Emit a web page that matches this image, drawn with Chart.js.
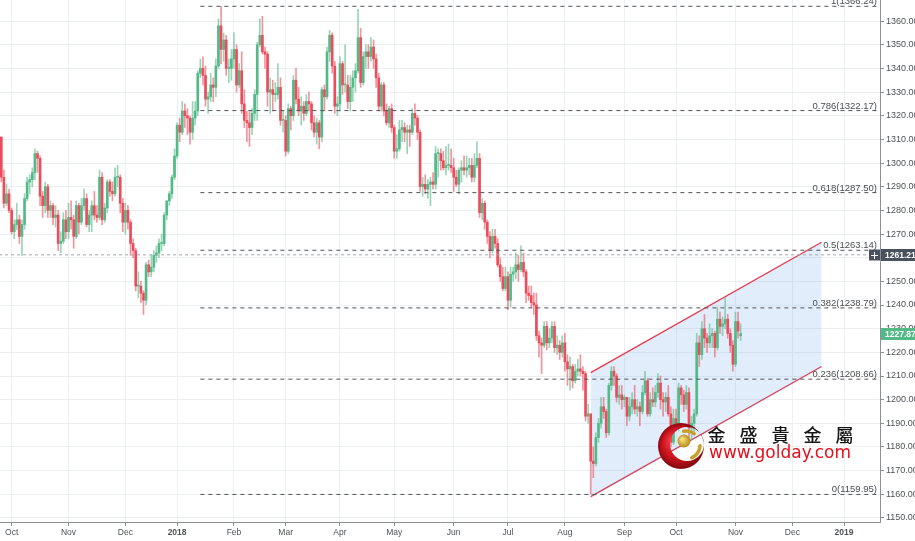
<!DOCTYPE html>
<html>
<head>
<meta charset="utf-8">
<script src="https://cdn.jsdelivr.net/npm/chart.js@4.4.1/dist/chart.umd.min.js"></script>
<style>
  html, body { margin: 0; padding: 0; background: #fff; }
  #wrap { width: 915px; height: 541px; }
</style>
</head>
<body>
<div id="wrap"><canvas id="chart" width="915" height="541"></canvas></div>
<script>
// XAU/USD daily candles, one per trading day. Index 0 = 2 Oct 2017.
const firstIndex = -5;

const opens = [
  1297,1311,1294,1283,1287,
  1280,1271,1274,1276,1269,1274,1285,1292,1293,1296,1304,1302,1286,1282,1290,1280,1282,1277,1278,1266,1267,1276,
  1271,1277,1276,1269,1282,1275,1282,1285,1274,1278,1282,1278,1277,1294,1276,1281,1292,1288,1287,1294,1294,1283,
  1275,1280,1275,1266,1263,1248,1248,1245,1242,1257,1254,1256,1261,1262,1266,1266,1278,1284,1287,1294,
  1303,1316,1313,1322,1320,1319,1313,1319,1322,1338,1340,1337,1327,1328,1333,1332,1341,1358,1348,1352,1340,1340,
  1344,1348,1333,1339,1325,1318,1317,1315,1321,1329,1350,1354,1347,1346,1330,1331,1329,1329,1332,1318,
  1318,1305,1323,1320,1335,1327,1322,1324,1321,1326,1325,1317,1313,1317,1311,1331,1328,1347,1354,1341,1324,
  1325,1342,1333,1333,1326,1332,1336,1339,1353,1334,1345,1347,1345,1349,1344,1336,1324,1333,1322,1317,1323,
  1315,1305,1306,1314,1315,1313,1314,1313,1321,1319,1313,1290,1291,1289,1291,1292,1291,1304,1304,1301,1298,1299,1299,
  1298,1294,1291,1297,1298,1297,1298,1299,1294,1299,1302,1279,1283,1275,1269,1263,1269,1266,1257,1252,1247,
  1252,1242,1253,1254,1257,1255,1258,1254,1245,1244,1241,1240,1227,1224,1223,1231,1224,1226,1231,1222,1223,1220,
  1224,1216,1213,1214,1208,1212,1213,1212,1211,1193,1194,1174,1173,1184,1190,1197,1195,1186,1206,1212,1210,1201,1202,
  1200,1201,1193,1197,1200,1196,1197,1195,1203,1208,1194,1200,1199,1203,1207,1200,1199,1201,1194,1182,
  1192,1189,1205,1202,1198,1203,1188,1190,1194,1224,1219,1230,1226,1224,1227,1228,1222,1234,1231,1232,1234,1228,1223,
  1215,1233,1227
];
const highs = [
  1312,1311,1297,1291,1289,
  1281,1276,1283,1278,1276,1287,1294,1295,1298,1306,1305,1303,1288,1292,1291,1284,1283,1282,1280,1271,1279,1280,
  1283,1284,1278,1284,1283,1285,1289,1287,1280,1284,1288,1282,1297,1296,1283,1293,1293,1292,1298,1299,1295,1285,
  1283,1282,1276,1268,1264,1254,1250,1246,1258,1259,1261,1263,1265,1268,1270,1279,1284,1288,1295,1306,
  1317,1319,1326,1325,1323,1320,1326,1326,1339,1344,1345,1341,1330,1338,1336,1344,1361,1366.2,1355,1354,1344,1348,
  1355,1350,1342,1347,1331,1322,1322,1323,1331,1351,1361,1362,1349,1347,1336,1335,1334,1342,1336,1322,
  1320,1325,1324,1337,1340,1332,1328,1326,1329,1330,1326,1320,1319,1318,1332,1333,1349,1356,1355,1343,1328,
  1345,1343,1350,1337,1337,1339,1342,1365,1357,1347,1350,1350,1353,1352,1346,1338,1334,1334,1325,1324,1325,
  1316,1312,1318,1318,1317,1316,1316,1323,1325,1320,1314,1294,1295,1293,1294,1296,1307,1306,1306,1305,1307,1308,1306,
  1302,1297,1298,1301,1303,1303,1302,1302,1304,1309,1304,1285,1284,1276,1271,1272,1272,1268,1260,1256,1256,
  1254,1256,1256,1262,1261,1265,1262,1255,1248,1248,1245,1245,1229,1226,1233,1233,1230,1233,1233,1227,1225,1227,
  1228,1219,1218,1215,1215,1217,1219,1214,1212,1198,1194,1180,1186,1192,1201,1201,1196,1207,1214,1214,1211,1206,1206,
  1202,1201,1201,1203,1206,1200,1199,1206,1212,1209,1203,1205,1206,1211,1210,1203,1203,1206,1197,1196,
  1196,1207,1206,1204,1206,1205,1193,1196,1228,1227,1233,1236,1228,1232,1230,1229,1239,1237,1235,1243,1236,1230,1225,
  1237,1237,1232
];
const lows = [
  1294,1292,1281,1282,1279,
  1270,1268,1272,1266,1261,1272,1284,1287,1290,1293,1296,1282,1277,1279,1277,1277,1274,1273,1263,1262,1266,1268,
  1268,1272,1264,1268,1270,1274,1280,1273,1271,1271,1276,1275,1276,1274,1275,1279,1286,1284,1286,1290,1279,1271,
  1270,1272,1261,1260,1246,1243,1241,1236,1240,1252,1252,1254,1258,1260,1263,1265,1276,1282,1285,1293,
  1302,1309,1312,1315,1312,1308,1310,1316,1320,1336,1333,1324,1321,1326,1326,1328,1340,1342,1343,1337,1334,1335,
  1340,1330,1332,1321,1315,1309,1307,1312,1318,1318,1349,1346,1340,1324,1321,1322,1326,1327,1316,1313,
  1303,1304,1314,1318,1325,1320,1316,1318,1320,1322,1314,1311,1308,1306,1309,1322,1327,1343,1338,1321,1320,
  1322,1329,1330,1323,1322,1326,1330,1338,1332,1333,1340,1340,1343,1340,1332,1322,1322,1320,1316,1315,1313,
  1302,1302,1305,1309,1309,1304,1307,1312,1316,1310,1288,1286,1287,1285,1282,1289,1289,1294,1297,1297,1295,1297,1296,
  1288,1290,1287,1292,1295,1294,1295,1292,1292,1298,1277,1276,1272,1266,1260,1262,1264,1256,1250,1246,1246,
  1238,1239,1250,1251,1250,1254,1252,1241,1242,1239,1236,1225,1218,1211,1222,1221,1222,1224,1220,1219,1217,1218,
  1212,1206,1204,1205,1207,1210,1210,1204,1191,1190,1160,1167,1172,1182,1188,1192,1184,1185,1204,1206,1199,1198,1196,
  1197,1189,1191,1194,1194,1193,1189,1194,1202,1193,1193,1197,1197,1201,1196,1193,1195,1193,1180,1181,
  1187,1187,1198,1195,1196,1184,1183,1185,1193,1214,1217,1222,1220,1222,1222,1218,1221,1228,1227,1230,1226,1220,1212,
  1214,1226,1225
];
const closes = [
  1311,1294,1283,1287,1280,
  1271,1274,1276,1269,1274,1285,1292,1293,1296,1304,1302,1286,1282,1290,1280,1282,1277,1278,1266,1267,1276,1271,
  1277,1276,1269,1282,1275,1282,1285,1274,1278,1282,1278,1277,1294,1276,1281,1292,1288,1287,1294,1294,1283,1275,
  1280,1275,1266,1263,1248,1248,1245,1242,1257,1254,1256,1261,1262,1266,1266,1278,1284,1287,1294,1303,
  1316,1313,1322,1320,1319,1313,1319,1322,1338,1340,1337,1327,1328,1333,1332,1341,1358,1348,1352,1340,1340,1344,
  1348,1333,1339,1325,1318,1317,1315,1321,1329,1350,1354,1347,1346,1330,1331,1329,1329,1332,1318,1318,
  1305,1323,1320,1335,1327,1322,1324,1321,1326,1325,1317,1313,1317,1311,1331,1328,1347,1354,1341,1324,1325,
  1342,1333,1333,1326,1332,1336,1339,1353,1334,1345,1347,1345,1349,1344,1336,1324,1333,1322,1317,1323,1315,
  1305,1306,1314,1315,1313,1314,1313,1321,1319,1313,1290,1291,1289,1291,1292,1291,1304,1304,1301,1298,1299,1299,1298,
  1294,1291,1297,1298,1297,1298,1299,1294,1299,1302,1279,1283,1275,1269,1263,1269,1266,1257,1252,1247,1252,
  1242,1253,1254,1257,1255,1258,1254,1245,1244,1241,1240,1227,1224,1223,1231,1224,1226,1231,1222,1223,1220,1224,
  1216,1213,1214,1208,1212,1213,1212,1211,1193,1194,1174,1173,1184,1190,1197,1195,1186,1206,1212,1210,1201,1202,1200,
  1201,1193,1197,1200,1196,1197,1195,1203,1208,1194,1200,1199,1203,1207,1200,1199,1201,1194,1182,1192,
  1189,1205,1202,1198,1203,1188,1190,1194,1224,1219,1230,1226,1224,1227,1228,1222,1234,1231,1232,1234,1228,1223,1215,
  1233,1229,1227.87
];

// month ticks on the time axis (bar index of first trading day)
const monthTickIndex = [0, 22, 44, 64, 86, 106, 127, 148, 171, 192, 214, 237, 257, 280, 302, 322];
const monthTickLabels = ['Oct', 'Nov', 'Dec', '2018', 'Feb', 'Mar', 'Apr', 'May', 'Jun', 'Jul', 'Aug', 'Sep', 'Oct', 'Nov', 'Dec', '2019'];

// Fibonacci retracement
const fibRatios = ['1', '0.786', '0.618', '0.5', '0.382', '0.236', '0'];
const fibPrices = [1366.24, 1322.17, 1287.50, 1263.14, 1238.79, 1208.66, 1159.95];
const fibStart = 73;

// rising channel
const channelX = [224, 313.3];
const channelUpper = [1211.4, 1266.5];
const channelLower = [1159.0, 1214.0];

const lastPrice = 1227.87;
const crossPrice = 1261.21;

const X_MIN = -4.5, X_MAX = 335.9;
const Y_MIN = 1148.3, Y_MAX = 1368.9;

const UP = '#53b987';
const DOWN = '#eb4d5c';
const GRID = '#edf0f3';
const AXIS = '#8c9096';
const TEXT = '#4f5257';
const FONT = '"Liberation Sans", Arial, sans-serif';

Chart.defaults.font.family = FONT;

const candleColor = (k, alpha) => {
  const up = closes[k] >= opens[k];
  if (alpha) return up ? 'rgba(83,185,135,' + alpha + ')' : 'rgba(235,77,92,' + alpha + ')';
  return up ? UP : DOWN;
};

const wickData = highs.map((h, k) => ({ x: k + firstIndex, y: [lows[k], h] }));
const bodyData = opens.map((o, k) => ({ x: k + firstIndex, y: [o, closes[k]] }));

const fibSets = fibPrices.map(p => ({
  type: 'line',
  data: [{ x: fibStart, y: p }, { x: X_MAX + 5, y: p }],
  borderColor: '#505358',
  borderWidth: 1,
  borderDash: [4, 4],
  pointRadius: 0,
  fill: false,
  order: -1
}));

// keep the plot flush with the canvas edges, like the original
const noPad = s => { s.paddingTop = 0; s.paddingBottom = 0; s.paddingLeft = 0; s.paddingRight = 0; };

const overlay = {
  id: 'overlay',
  afterDatasetsDraw(chart) {
    const { ctx } = chart;
    const ys = chart.scales.y;
    ctx.save();
    // fib labels
    ctx.font = '9.5px ' + FONT;
    ctx.fillStyle = '#4a4d52';
    ctx.textAlign = 'right';
    ctx.textBaseline = 'alphabetic';
    fibPrices.forEach((p, i) => {
      ctx.fillText(fibRatios[i] + '(' + p.toFixed(2) + ')', 877, ys.getPixelForValue(p) - 2);
    });

    // logo watermark
    const cx = 681, cy = 446;
    ctx.beginPath();
    ctx.arc(cx, cy, 23, 0, Math.PI * 2);
    ctx.arc(cx + 6, cy - 2, 17, 0, Math.PI * 2, true);
    const rg = ctx.createRadialGradient(cx - 9, cy - 6, 2, cx, cy, 24);
    rg.addColorStop(0, '#f23a3f');
    rg.addColorStop(0.6, '#c8121c');
    rg.addColorStop(1, '#7d0810');
    ctx.fillStyle = rg;
    ctx.fill();
    ctx.strokeStyle = '#c9a12a';
    ctx.lineWidth = 3.5;
    ctx.lineCap = 'round';
    ctx.beginPath();
    ctx.arc(cx + 5, cy - 1, 14, -1.75, -0.95);
    ctx.stroke();
    ctx.beginPath();
    ctx.arc(cx + 5, cy - 1, 14, 0.05, 1.15);
    ctx.stroke();
    const gg = ctx.createRadialGradient(cx + 1, cy - 7, 1, cx + 3, cy - 5, 7);
    gg.addColorStop(0, '#f6dd7a');
    gg.addColorStop(1, '#b08511');
    ctx.fillStyle = gg;
    ctx.beginPath();
    ctx.arc(cx + 3, cy - 5, 6.5, 0, Math.PI * 2);
    ctx.fill();

    ctx.fillStyle = '#161616';
    ctx.font = '500 18px "Noto Sans CJK TC", sans-serif';
    ctx.textAlign = 'center';
    ctx.textBaseline = 'middle';
    ['金', '盛', '貴', '金', '屬'].forEach((c, i) => ctx.fillText(c, 716.5 + i * 32, 435));
    ctx.fillStyle = '#e60f1c';
    ctx.font = '17px "DejaVu Sans", sans-serif';
    ctx.textAlign = 'left';
    ctx.textBaseline = 'alphabetic';
    ctx.fillText('www.golday.com', 709, 458);
    ctx.restore();
  },
  afterDraw(chart) {
    const { ctx } = chart;
    const ys = chart.scales.y;
    ctx.save();
    ctx.font = 'bold 8.5px ' + FONT;
    ctx.textBaseline = 'middle';
    ctx.textAlign = 'left';
    // crosshair price
    let y = Math.round(ys.getPixelForValue(crossPrice));
    ctx.fillStyle = '#4a505c';
    ctx.fillRect(869, y - 5.5, 11, 11);
    ctx.fillRect(881, y - 6, 34, 12);
    ctx.strokeStyle = '#fff';
    ctx.lineWidth = 1;
    ctx.beginPath();
    ctx.moveTo(871, y + 0.5); ctx.lineTo(878, y + 0.5);
    ctx.moveTo(874.5, y - 3); ctx.lineTo(874.5, y + 4);
    ctx.stroke();
    ctx.fillStyle = '#fff';
    ctx.fillText(crossPrice.toFixed(2), 885, y + 0.5);
    // last price
    y = Math.round(ys.getPixelForValue(lastPrice));
    ctx.fillStyle = UP;
    ctx.fillRect(881, y - 6, 34, 12);
    ctx.fillStyle = '#fff';
    ctx.fillText(lastPrice.toFixed(2), 885, y + 0.5);
    ctx.restore();
  }
};

new Chart(document.getElementById('chart'), {
  type: 'bar',
  data: {
    datasets: [
      {
        type: 'line',
        data: [{ x: channelX[0], y: channelUpper[0] }, { x: channelX[1], y: channelUpper[1] }],
        borderColor: '#e5394d',
        borderWidth: 1.3,
        pointRadius: 0,
        fill: '+1',
        backgroundColor: 'rgba(80,150,225,0.17)',
        order: 5
      },
      {
        type: 'line',
        data: [{ x: channelX[0], y: channelLower[0] }, { x: channelX[1], y: channelLower[1] }],
        borderColor: '#e5394d',
        borderWidth: 1.3,
        pointRadius: 0,
        fill: false,
        order: 5
      },
      {
        type: 'line',
        data: [{ x: X_MIN - 5, y: crossPrice }, { x: X_MAX + 5, y: crossPrice }],
        borderColor: '#a3a7ad',
        borderWidth: 1,
        borderDash: [3, 3],
        pointRadius: 0,
        fill: false,
        order: -1
      },
      ...fibSets,
      {
        label: 'wick',
        data: wickData,
        backgroundColor: c => candleColor(c.dataIndex, 0.6),
        barThickness: 1,
        grouped: false,
        order: 1
      },
      {
        label: 'body',
        data: bodyData,
        backgroundColor: c => candleColor(c.dataIndex),
        barThickness: 2,
        minBarLength: 1,
        grouped: false,
        order: 0
      }
    ]
  },
  options: {
    responsive: false,
    animation: false,
    layout: { padding: 0 },
    plugins: { legend: { display: false }, tooltip: { enabled: false } },
    scales: {
      x: {
        type: 'linear',
        min: X_MIN,
        max: X_MAX,
        offset: false,
        grid: { color: GRID, offset: false, tickLength: 4, tickColor: AXIS },
        border: { color: AXIS },
        afterBuildTicks: s => { s.ticks = monthTickIndex.map(v => ({ value: v })); },
        afterFit: s => { s.height = 19; noPad(s); },
        ticks: {
          autoSkip: false,
          maxRotation: 0,
          padding: 2,
          color: TEXT,
          font: c => ({
            family: FONT,
            size: 8.5,
            weight: c.tick && /^\d{4}$/.test(monthTickLabels[monthTickIndex.indexOf(c.tick.value)]) ? 'bold' : 'normal'
          }),
          callback: v => monthTickLabels[monthTickIndex.indexOf(v)]
        }
      },
      y: {
        type: 'linear',
        position: 'right',
        min: Y_MIN,
        max: Y_MAX,
        grid: { color: GRID, tickLength: 4, tickColor: AXIS },
        border: { color: AXIS },
        afterFit: s => { s.width = 35; noPad(s); },
        ticks: {
          stepSize: 10,
          includeBounds: false,
          padding: 2,
          color: TEXT,
          font: { size: 9 },
          callback: v => v.toFixed(2)
        }
      }
    }
  },
  plugins: [overlay]
});
</script>
</body>
</html>
